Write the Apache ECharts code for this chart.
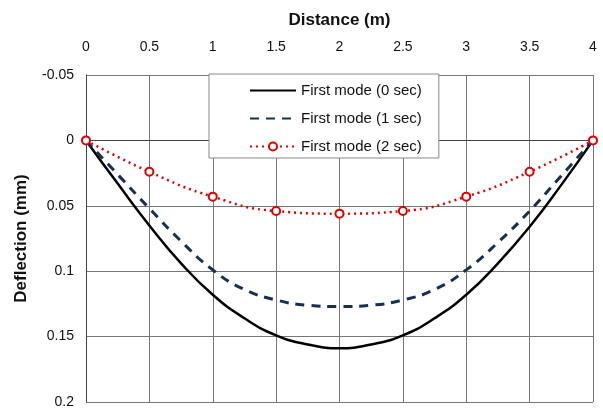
<!DOCTYPE html>
<html>
<head>
<meta charset="utf-8">
<script src="https://cdn.jsdelivr.net/npm/echarts@6/dist/echarts.min.js"></script>
<style>
  html, body { margin: 0; padding: 0; background: #fff; }
  #chart { width: 603px; height: 409px; }
</style>
</head>
<body>
<div id="chart"></div>
<script>
// fine grid for the two curves, coarse grid for the marked series
var distanceFine = [0, 0.25, 0.5, 0.75, 1, 1.25, 1.5, 1.75, 2, 2.25, 2.5, 2.75, 3, 3.25, 3.5, 3.75, 4];
var mode0 = [0, 0.033, 0.065, 0.094, 0.118, 0.136, 0.149, 0.156, 0.159, 0.156, 0.149, 0.136, 0.118, 0.094, 0.066, 0.034, 0];
var mode1 = [0, 0.026, 0.052, 0.077, 0.099, 0.114, 0.122, 0.126, 0.127, 0.126, 0.122, 0.114, 0.099, 0.078, 0.054, 0.027, 0];
var distance = [0, 0.5, 1, 1.5, 2, 2.5, 3, 3.5, 4];
var mode2 = [0, 0.024, 0.043, 0.054, 0.056, 0.054, 0.043, 0.024, 0];
var names = ['First mode (0 sec)', 'First mode (1 sec)', 'First mode (2 sec)'];

function pairs(xs, ys) {
  var out = [];
  for (var i = 0; i < xs.length; i++) out.push([xs[i], ys[i]]);
  return out;
}

var chart = echarts.init(document.getElementById('chart'));

var option = {
  animation: false,
  textStyle: { fontFamily: 'Liberation Sans, Arial, sans-serif' },
  grid: { left: 86, right: 10, top: 75, bottom: 5 },
  xAxis: {
    type: 'value',
    position: 'top',
    min: 0, max: 4, interval: 0.5,
    name: 'Distance (m)',
    nameLocation: 'middle',
    nameGap: 46,
    nameTextStyle: { fontSize: 17, fontWeight: 'bold', color: '#111' },
    axisLine: { lineStyle: { color: '#444', width: 1 } },
    axisTick: { show: false },
    axisLabel: { fontSize: 14, color: '#111', margin: 21 },
    splitLine: { show: true, lineStyle: { color: '#777', width: 1 } }
  },
  yAxis: {
    type: 'value',
    inverse: true,
    min: -0.05, max: 0.2, interval: 0.05,
    name: 'Deflection (mm)',
    nameLocation: 'middle',
    nameGap: 56,
    nameTextStyle: { fontSize: 17, fontWeight: 'bold', color: '#111' },
    axisLine: { show: true, lineStyle: { color: '#444', width: 1 } },
    axisTick: { show: false },
    axisLabel: {
      fontSize: 14, color: '#111', margin: 12,
      formatter: function (v) { return String(parseFloat(v.toFixed(2))); }
    },
    splitLine: { show: true, lineStyle: { color: '#777', width: 1 } }
  },
  legend: {
    orient: 'vertical',
    left: 209, top: 74,
    backgroundColor: '#fff',
    borderColor: '#888',
    borderWidth: 1,
    borderRadius: 0,
    padding: [9, 17, 4, 40],
    itemGap: 13,
    itemWidth: 46,
    itemHeight: 10,
    textStyle: { fontSize: 15, color: '#111' },
    data: [
      { name: names[0], itemStyle: { color: 'rgba(0,0,0,0)', borderWidth: 0 } },
      { name: names[1], itemStyle: { color: 'rgba(0,0,0,0)', borderWidth: 0 } },
      { name: names[2] }
    ]
  },
  series: [
    {
      name: names[0],
      type: 'line',
      smooth: true,
      symbol: 'none',
      data: pairs(distanceFine, mode0),
      lineStyle: { color: '#000', width: 2.5, type: 'solid' },
      itemStyle: { color: '#000' },
      z: 3
    },
    {
      name: names[1],
      type: 'line',
      smooth: true,
      symbol: 'none',
      data: pairs(distanceFine, mode1),
      lineStyle: { color: '#1a2f4e', width: 3, type: [9, 7] },
      itemStyle: { color: '#1a2f4e' },
      z: 4
    },
    {
      name: names[2],
      type: 'line',
      smooth: true,
      symbol: 'circle',
      symbolSize: 8,
      data: pairs(distance, mode2),
      lineStyle: { color: '#e00000', width: 2.5, type: [2, 4] },
      itemStyle: { color: '#fff', borderColor: '#e00000', borderWidth: 2 },
      z: 5
    }
  ]
};

chart.setOption(option);
</script>
</body>
</html>
